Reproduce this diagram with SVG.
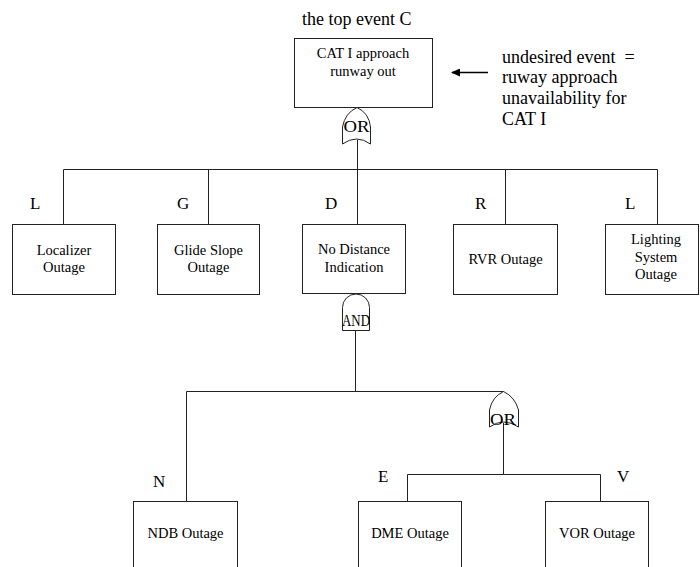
<svg xmlns="http://www.w3.org/2000/svg" width="700" height="567" viewBox="0 0 700 567">
<style>
text{font-family:"Liberation Serif","Times New Roman",serif;fill:#000}
.box{fill:#fff;stroke:#222;stroke-width:1}
.lbl{font-size:14.5px;text-anchor:middle}
.tag{font-size:17px}
.note{font-size:18px}
.gate{fill:#fff;stroke:#222;stroke-width:1}
.gt{font-size:17px;text-anchor:middle}
.wire{fill:none;stroke:#222;stroke-width:1}
</style>
<defs>
<marker id="ah" markerWidth="10" markerHeight="8" refX="8" refY="4" orient="auto" markerUnits="userSpaceOnUse">
<path d="M0,0 L9,4 L0,8 Z" fill="#000"/>
</marker>
</defs>
<rect width="700" height="567" fill="#fff"/>
<g id="connectors">
<path class="wire" d="M357.5,140 V224.5"/>
<path class="wire" d="M63.5,224.5 V169.5 H657.5 V224.5"/>
<path class="wire" d="M208.5,169.5 V224.5"/>
<path class="wire" d="M505.5,169.5 V224.5"/>
<path class="wire" d="M355.5,330 V391.5"/>
<path class="wire" d="M186.5,501.5 V391.5 H503.5"/>
<path class="wire" d="M503.5,423 V474.5"/>
<path class="wire" d="M407.5,501.5 V474.5 H600.5 V501.5"/>
<line x1="488" y1="72.5" x2="452" y2="72.5" stroke="#000" stroke-width="1.3" marker-end="url(#ah)"/>
</g>
<g id="top-label"><text class="note" x="302" y="25">the top event C</text></g>
<g id="note"><text class="note" x="502" y="63" xml:space="preserve">undesired event  =</text>
<text class="note" x="502" y="83">ruway approach</text>
<text class="note" x="502" y="104">unavailability for</text>
<text class="note" x="502" y="125">CAT I</text></g>
<g id="C"><rect class="box" x="294.5" y="38.5" width="138" height="69"/>
<text class="lbl" x="363" y="58">CAT I approach</text>
<text class="lbl" x="363" y="76">runway out</text></g>
<g id="gate-or-top"><path class="gate" d="M342.5,144 V127 Q345,113 357,107.5 Q369,113 370.5,127 V144 Q356.5,134 342.5,144 Z"/>
<text class="gt" x="356.5" y="132" textLength="26" lengthAdjust="spacingAndGlyphs">OR</text></g>
<g id="L1"><rect class="box" x="12.5" y="224.5" width="103" height="70"/>
<text class="lbl" x="64" y="255">Localizer</text><text class="lbl" x="64" y="272">Outage</text>
<text class="tag" x="30" y="209">L</text></g>
<g id="G"><rect class="box" x="157.5" y="224.5" width="102" height="70"/>
<text class="lbl" x="208.5" y="255">Glide Slope</text><text class="lbl" x="208.5" y="272">Outage</text>
<text class="tag" x="177" y="209">G</text></g>
<g id="D"><rect class="box" x="302.5" y="224.5" width="103" height="69"/>
<text class="lbl" x="354" y="254">No Distance</text><text class="lbl" x="354" y="272">Indication</text>
<text class="tag" x="325" y="209">D</text></g>
<g id="R"><rect class="box" x="453.5" y="224.5" width="104" height="70"/>
<text class="lbl" x="505.5" y="264">RVR Outage</text>
<text class="tag" x="475" y="209">R</text></g>
<g id="L2"><rect class="box" x="605.5" y="224.5" width="93" height="70"/>
<text class="lbl" x="656" y="244">Lighting</text><text class="lbl" x="656" y="262">System</text><text class="lbl" x="656" y="279">Outage</text>
<text class="tag" x="625" y="209">L</text></g>
<g id="gate-and"><path class="gate" d="M342.5,330.5 V307.5 A13.5,13.5 0 0 1 369.5,307.5 V330.5 Z"/>
<text class="gt" x="356" y="326" font-size="15" textLength="28" lengthAdjust="spacingAndGlyphs">AND</text></g>
<g id="gate-or-low"><path class="gate" d="M489.5,427 V410 Q492,397 503.5,391.5 Q515,397 518.5,410 V427 Q503.5,417 489.5,427 Z"/>
<text class="gt" x="503" y="425" textLength="26" lengthAdjust="spacingAndGlyphs">OR</text></g>
<g id="N"><rect class="box" x="133.5" y="501.5" width="104" height="80"/>
<text class="lbl" x="185.5" y="538">NDB Outage</text>
<text class="tag" x="153" y="487">N</text></g>
<g id="E"><rect class="box" x="358.5" y="501.5" width="103" height="80"/>
<text class="lbl" x="410" y="538">DME Outage</text>
<text class="tag" x="378" y="482">E</text></g>
<g id="V"><rect class="box" x="545.5" y="501.5" width="103" height="80"/>
<text class="lbl" x="597" y="538">VOR Outage</text>
<text class="tag" x="617" y="482">V</text></g>
</svg>
